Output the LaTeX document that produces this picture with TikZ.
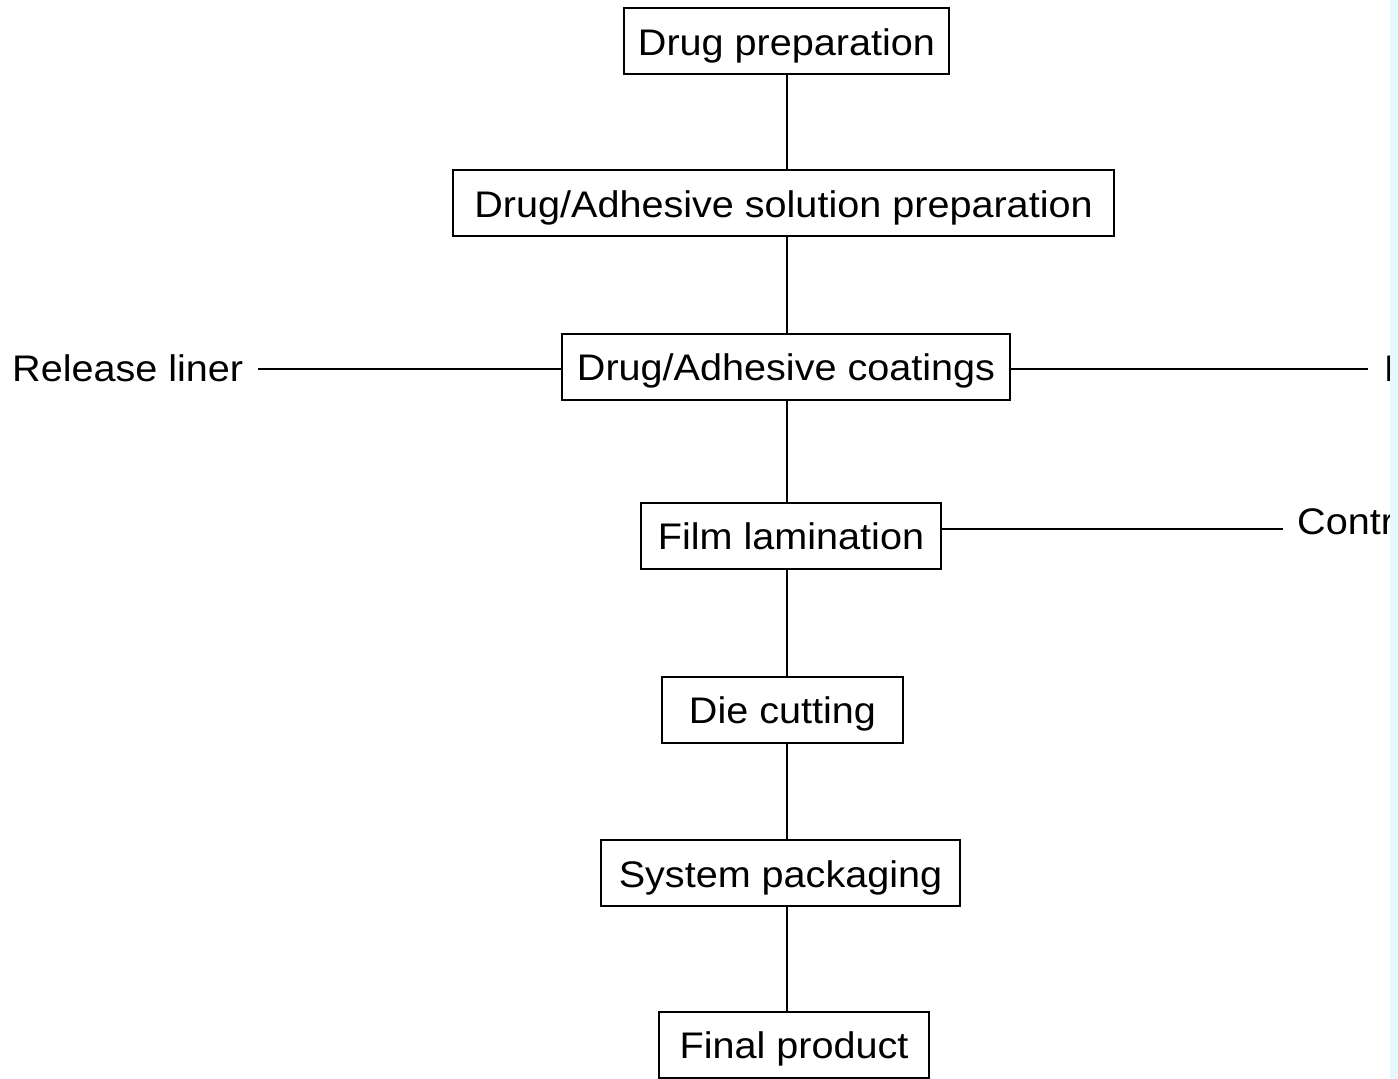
\documentclass[tikz,border=0pt]{standalone}
\usepackage{fontspec}
\setmainfont[FakeStretch=1.07]{Liberation Sans}
\begin{document}
\begin{tikzpicture}[x=1pt,y=-1pt,
  box/.style={draw=black,line width=2pt,inner sep=0pt,minimum height=66pt,text height=30pt,text depth=2pt,font=\fontsize{37}{42}\selectfont},
  lbl/.style={inner sep=0pt,text height=30pt,text depth=2pt,font=\fontsize{37}{42}\selectfont},
  conn/.style={line width=2pt,black}]
\useasboundingbox (0,0) rectangle (1398,1079);
\fill[white] (0,0) rectangle (1398,1079);
\begin{scope}
\clip (0,0) rectangle (1390,1079);
\node[box,minimum width=325pt] (a) at (786.5,41) {Drug preparation};
\node[box,minimum width=661pt] (b) at (783.5,203) {Drug/Adhesive solution preparation};
\node[box,minimum width=448pt] (c) at (786,366.5) {Drug/Adhesive coatings};
\node[box,minimum width=300pt] (d) at (791,535.5) {Film lamination};
\node[box,minimum width=241pt] (e) at (782.5,709.5) {Die cutting};
\node[box,minimum width=359pt] (f) at (780.5,873) {System packaging};
\node[box,minimum width=270pt] (g) at (794,1044.5) {Final product};
\node[lbl,anchor=west] (rl) at (12,367) {Release liner};
\node[lbl,anchor=west] (bk) at (1384,367) {B};
\node[lbl,anchor=west] (cm) at (1297,520) {Contr};
\coordinate (rlend) at (258,369);
\coordinate (bkend) at (1368,369);
\coordinate (cmend) at (1283,529);
\draw[conn] (787,74) -- (787,170);
\draw[conn] (787,236) -- (787,333);
\draw[conn] (787,400) -- (787,502);
\draw[conn] (787,569) -- (787,676);
\draw[conn] (787,743) -- (787,839);
\draw[conn] (787,907) -- (787,1012);
\draw[conn] (rlend) -- (c.west |- rlend);
\draw[conn] (c.east |- bkend) -- (bkend);
\draw[conn] (d.east |- cmend) -- (cmend);
\end{scope}
\fill[cyan!10] (1390,0) rectangle (1398,1079);
\end{tikzpicture}
\end{document}
